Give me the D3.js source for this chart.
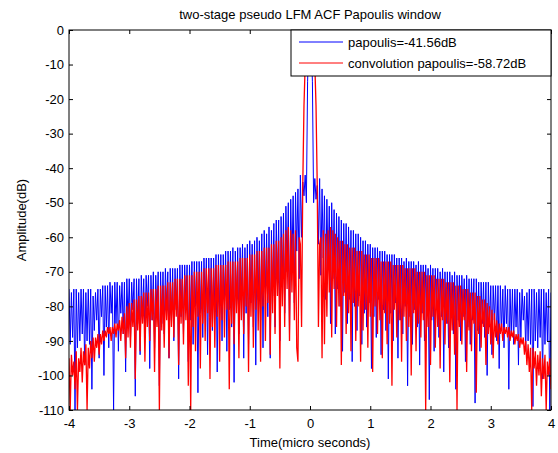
<!doctype html>
<html>
  <head>
    <meta charset="utf-8">
    <title>two-stage pseudo LFM ACF Papoulis window</title>
    <style type="text/css">
		body{
			margin: 0px;
			background: #ffffff;
		}
		#chart{
			width: 558px;
			height: 453px;
		}
		text{
			font-family: "Liberation Sans", Arial, sans-serif;
		}
    </style>
    <script src="https://d3js.org/d3.v7.min.js"></script>
  </head>
  <body>
    <svg id="chart" width="558" height="453"></svg>
    <script type="text/javascript">
		// data (dB), sampled every 0.02 us from -4 to 4 (401 samples, index 200 = 0 us)
		// each row below = 10 samples = 0.2 us
		var tStart = -4;
		var tStep = 0.02;
		var papoulis = [
			-75,-91,-76,-89,-75,-110,-75,-92,-76,-90,
			-75,-88,-75,-97,-76,-90,-75,-91,-75,-104,
			-77,-87,-76,-84,-75,-95,-75,-83,-74,-100,
			-74,-86,-74,-92,-73,-82,-74,-110,-73,-85,
			-73,-93,-74,-82,-73,-88,-73,-99,-72,-84,
			-72,-90,-73,-81,-72,-106,-72,-85,-72,-94,
			-71,-83,-72,-89,-71,-80,-71,-98,-71,-84,
			-70,-92,-71,-82,-70,-103,-70,-85,-70,-88,
			-69,-80,-70,-95,-69,-84,-69,-90,-69,-81,
			-69,-101,-68,-83,-68,-88,-68,-79,-68,-96,
			-68,-84,-67,-91,-67,-80,-67,-105,-67,-82,
			-67,-89,-66,-79,-66,-94,-66,-83,-66,-87,
			-66,-80,-65,-99,-65,-82,-65,-90,-65,-78,
			-64,-93,-64,-81,-64,-86,-63,-102,-64,-80,
			-63,-88,-63,-78,-62,-95,-63,-82,-62,-91,
			-61,-79,-62,-86,-61,-97,-60,-78,-61,-84,
			-59,-92,-58,-76,-59,-83,-57,-95,-58,-77,
			-56,-86,-55,-74,-55,-90,-54,-73,-53,-82,
			-51,-70,-50,-88,-49,-68,-48,-79,-47,-64,
			-46,-72,-42,-60,-44,-48,-42,-50,-15,-3,
			0,
			-3,-15,-50,-43,-49,-45,-62,-43,-71,-46,
			-66,-48,-78,-49,-69,-51,-85,-50,-72,-52,
			-88,-53,-75,-54,-80,-55,-93,-56,-76,-56,
			-85,-57,-78,-58,-96,-58,-80,-59,-87,-59,
			-77,-60,-91,-61,-82,-61,-86,-62,-79,-62,
			-98,-63,-83,-63,-89,-63,-78,-64,-94,-64,
			-81,-64,-87,-65,-101,-65,-82,-65,-90,-65,
			-79,-66,-95,-66,-84,-66,-88,-67,-80,-66,
			-103,-67,-83,-67,-91,-67,-81,-68,-86,-67,
			-97,-68,-82,-68,-90,-68,-80,-69,-107,-68,
			-84,-69,-93,-69,-81,-69,-89,-70,-83,-69,
			-99,-70,-85,-70,-92,-70,-82,-71,-88,-70,
			-104,-71,-84,-71,-90,-71,-83,-72,-96,-71,
			-86,-72,-91,-72,-84,-72,-108,-72,-87,-73,
			-93,-73,-85,-73,-89,-73,-100,-73,-86,-74,
			-94,-74,-84,-74,-90,-74,-98,-74,-87,-75,
			-92,-74,-85,-75,-104,-75,-88,-75,-91,-75,
			-86,-75,-97,-76,-89,-75,-84,-77,-93,-76,
			-90,-75,-91,-75,-109,-75,-90,-76,-92,-75,
			-89,-75,-101,-75,-91,-76,-90,-75,-110,-76
		];
		var convPapoulis = [
			-95,-110,-94,-100,-96,-104,-93,-110,-95,-99,
			-92,-102,-93,-97,-91,-110,-92,-98,-90,-95,
			-89,-96,-89,-92,-88,-94,-88,-91,-87,-90,
			-87,-89,-86,-88,-86,-90,-86,-88,-85,-89,
			-85,-87,-84,-90,-83,-88,-82,-95,-80,-89,
			-79,-92,-79,-86,-78,-101,-78,-87,-77,-93,
			-77,-85,-76,-96,-76,-86,-76,-90,-75,-84,
			-75,-99,-75,-86,-74,-110,-74,-87,-74,-92,
			-74,-84,-73,-95,-73,-86,-73,-89,-72,-83,
			-72,-97,-72,-85,-72,-91,-71,-84,-71,-103,
			-71,-110,-71,-86,-70,-93,-70,-83,-70,-98,
			-70,-85,-69,-90,-69,-82,-69,-101,-69,-86,
			-69,-92,-68,-83,-68,-96,-68,-84,-68,-89,
			-68,-81,-67,-104,-67,-85,-67,-91,-67,-82,
			-67,-95,-66,-84,-66,-88,-66,-80,-66,-99,
			-65,-83,-65,-92,-65,-81,-64,-87,-64,-96,
			-64,-80,-63,-90,-63,-79,-63,-94,-62,-82,
			-62,-88,-61,-77,-61,-98,-60,-80,-59,-86,
			-58,-75,-57,-90,-58,-76,-59,-84,-58,-92,
			-96,-60,-62,-86,-45,-22,-10,-4,-1.5,-0.4,
			0,
			-0.4,-1.5,-4,-10,-22,-45,-86,-62,-60,-95,
			-58,-91,-59,-83,-58,-76,-57,-89,-58,-75,
			-59,-86,-60,-80,-61,-97,-61,-77,-62,-88,
			-62,-82,-63,-93,-63,-79,-63,-90,-64,-80,
			-64,-96,-64,-87,-65,-81,-65,-92,-65,-83,
			-66,-99,-66,-80,-66,-88,-66,-84,-67,-95,
			-67,-82,-67,-91,-67,-85,-67,-103,-68,-81,
			-68,-89,-68,-84,-68,-96,-68,-83,-69,-90,
			-69,-86,-69,-100,-69,-82,-69,-93,-70,-85,
			-70,-89,-70,-84,-70,-110,-71,-86,-71,-97,
			-71,-83,-71,-92,-72,-86,-72,-98,-72,-84,
			-72,-91,-73,-85,-73,-102,-73,-87,-73,-94,
			-74,-110,-74,-86,-74,-91,-75,-84,-75,-99,
			-75,-87,-76,-93,-76,-85,-76,-105,-77,-88,
			-77,-92,-78,-86,-78,-97,-79,-88,-80,-91,
			-81,-95,-82,-89,-84,-91,-85,-88,-85,-90,
			-86,-88,-86,-89,-86,-90,-87,-89,-87,-91,
			-88,-90,-88,-92,-89,-91,-89,-94,-90,-97,
			-91,-99,-92,-110,-92,-98,-93,-103,-94,-100,
			-93,-106,-95,-101,-94,-110,-96,-100,-95,-104
		];
		var xTicks = [-4, -3, -2, -1, 0, 1, 2, 3, 4];
		var yTicks = [0, -10, -20, -30, -40, -50, -60, -70, -80, -90, -100, -110];
		var legendLabels = ["papoulis=-41.56dB", "convolution papoulis=-58.72dB"];
		var seriesColors = ["#0000ff", "#ff0000"];

		var plotLeft = 69, plotRight = 551, plotTop = 30, plotBottom = 410;

		var svg = d3.select("#chart");

		var scaleX = d3.scaleLinear().domain([-4, 4]).range([plotLeft, plotRight]);
		var scaleY = d3.scaleLinear().domain([-110, 0]).range([plotBottom, plotTop]);

		svg.append("defs").append("clipPath")
			.attr("id", "plotclip")
			.append("rect")
			.attr("x", plotLeft)
			.attr("y", plotTop)
			.attr("width", plotRight - plotLeft)
			.attr("height", plotBottom - plotTop);

		var line = d3.line()
			.x(function(d, i){ return scaleX(tStart + i * tStep); })
			.y(function(d){ return scaleY(d); });

		var plot = svg.append("g").attr("clip-path", "url(#plotclip)");
		plot.append("path")
			.attr("d", line(papoulis))
			.attr("fill", "none")
			.attr("stroke", seriesColors[0])
			.attr("stroke-width", 1);
		plot.append("path")
			.attr("d", line(convPapoulis))
			.attr("fill", "none")
			.attr("stroke", seriesColors[1])
			.attr("stroke-width", 1.3);

		// axes, MATLAB style: ticks pointing inward on all four sides
		function plainNum(d){ return String(d); }
		function styleAxis(g){
			g.select(".domain").remove();
			g.selectAll("line").attr("stroke", "#000");
			g.selectAll("text").attr("font-size", "13px").attr("fill", "#000")
				.attr("font-family", "'Liberation Sans', Arial, sans-serif");
		}
		svg.append("g")
			.attr("transform", "translate(0," + plotBottom + ")")
			.call(d3.axisBottom(scaleX).tickValues(xTicks).tickSize(-4).tickPadding(9).tickFormat(plainNum))
			.call(styleAxis);
		svg.append("g")
			.attr("transform", "translate(0," + plotTop + ")")
			.call(d3.axisTop(scaleX).tickValues(xTicks).tickSize(-4).tickFormat(""))
			.call(styleAxis);
		svg.append("g")
			.attr("transform", "translate(" + plotLeft + ",0)")
			.call(d3.axisLeft(scaleY).tickValues(yTicks).tickSize(-4).tickPadding(5).tickFormat(plainNum))
			.call(styleAxis);
		svg.append("g")
			.attr("transform", "translate(" + plotRight + ",0)")
			.call(d3.axisRight(scaleY).tickValues(yTicks).tickSize(-4).tickFormat(""))
			.call(styleAxis);

		svg.append("rect")
			.attr("x", plotLeft)
			.attr("y", plotTop)
			.attr("width", plotRight - plotLeft)
			.attr("height", plotBottom - plotTop)
			.attr("fill", "none")
			.attr("stroke", "#000")
			.attr("stroke-width", 1);

		// titles
		svg.append("text")
			.attr("x", (plotLeft + plotRight) / 2)
			.attr("y", 19)
			.attr("text-anchor", "middle")
			.attr("font-size", "13px")
			.text("two-stage pseudo LFM ACF Papoulis window");
		svg.append("text")
			.attr("x", (plotLeft + plotRight) / 2)
			.attr("y", 447)
			.attr("text-anchor", "middle")
			.attr("font-size", "13px")
			.text("Time(micro seconds)");
		svg.append("text")
			.attr("transform", "translate(26," + ((plotTop + plotBottom) / 2) + ") rotate(-90)")
			.attr("text-anchor", "middle")
			.attr("font-size", "13px")
			.text("Amplitude(dB)");

		// legend
		var legend = svg.append("g");
		legend.append("rect")
			.attr("x", 291)
			.attr("y", plotTop)
			.attr("width", plotRight - 291)
			.attr("height", 46)
			.attr("fill", "#fff")
			.attr("stroke", "#000")
			.attr("stroke-width", 1);
		for(var i = 0; i < legendLabels.length; i++){
			var ly = 42 + i * 21;
			legend.append("line")
				.attr("x1", 299)
				.attr("x2", 343)
				.attr("y1", ly)
				.attr("y2", ly)
				.attr("stroke", seriesColors[i])
				.attr("stroke-width", 1);
			legend.append("text")
				.attr("x", 348)
				.attr("y", ly)
				.attr("dy", "0.35em")
				.attr("font-size", "13px")
				.text(legendLabels[i]);
		}
    </script>
  </body>
</html>
